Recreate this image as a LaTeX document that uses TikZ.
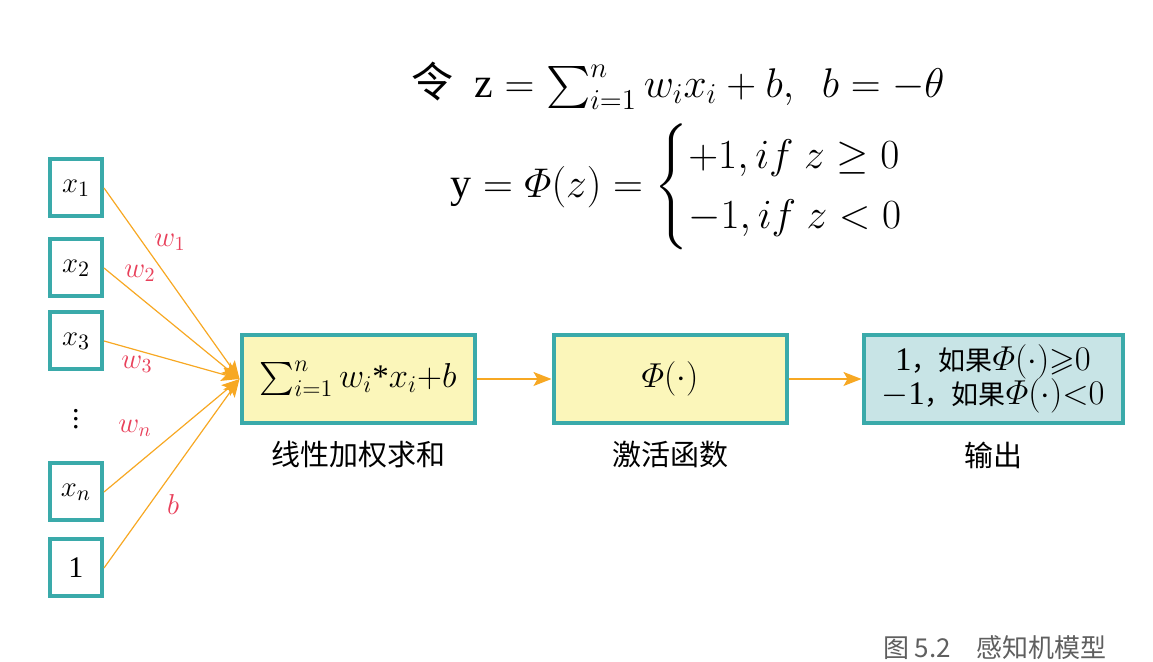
\documentclass[tikz,border=0pt]{standalone}
\usepackage{amsmath}
\usepackage{amssymb}
\usepackage{fontspec}
\setmainfont{Liberation Serif}
\newfontfamily\cjk{Noto Sans CJK SC}
\usepackage{tikz}
\usetikzlibrary{arrows.meta}
\usetikzlibrary{positioning}
\definecolor{boxteal}{RGB}{58,170,170}
\definecolor{sumyellow}{RGB}{251,246,186}
\definecolor{outblue}{RGB}{200,228,230}
\definecolor{arroworange}{RGB}{247,168,35}
\definecolor{weightred}{RGB}{232,64,90}
\definecolor{captiongray}{RGB}{95,95,95}

\begin{document}
\begin{tikzpicture}[x=0.5pt,y=-0.5pt,>={Stealth[length=9pt,width=7pt,inset=2pt]},
	inbox/.style={rectangle,draw=boxteal,line width=2pt,minimum width=26pt,minimum height=28.5pt,inner sep=0pt,font=\fontsize{15}{17}\selectfont},
	stagebox/.style={rectangle,draw=boxteal,line width=2pt,fill=sumyellow,minimum width=116.5pt,minimum height=44pt,inner sep=0pt,font=\fontsize{16.5}{18}\selectfont},
	stagelabel/.style={font=\cjk\fontsize{14.5}{16}\selectfont},
	weight/.style={text=weightred,font=\fontsize{14}{16}\selectfont},
	link/.style={draw=arroworange,line width=0.6pt,fill=arroworange}]
	\useasboundingbox (0,0) rectangle (1153,662);
	% formulas
	\node[inner sep=0pt] (zdef) at (678,86) {\fontsize{21}{25}\selectfont{\cjk 令}\ \ $\mathrm{z}=\textstyle\sum_{i=1}^{n}w_ix_i+b,\ \ b=-\theta$};
	\node[inner sep=0pt] (ydef) at (698,187) {\fontsize{21}{25}\selectfont$\mathrm{y}=\varPhi(z)=\begin{cases}+1,if\ z\geq0\\-1,if\ z<0\end{cases}$};
	% inputs
	\node[inbox] (x1) at (76,188) {$x_1$};
	\node[inbox] (x2) at (76,268) {$x_2$};
	\node[inbox] (x3) at (76,341) {$x_3$};
	\node[inner sep=0pt] (dots) at (76,413) {\fontsize{15}{17}\selectfont$\vdots$};
	\node[inbox] (xn) at (76,492) {$x_n$};
	\node[inbox] (one) at (76,568) {1};
	% stages
	\node[stagebox] (sum) at (358,379) {$\sum_{i=1}^{n}w_i\text{*}x_i{+}b$};
	\node[stagebox] (act) at (670,379) {$\varPhi(\cdot)$};
	\node[stagebox,fill=outblue,minimum width=129.5pt,align=center,font=\fontsize{16.5}{18}\selectfont] (out) at (993,379)
		{1{\cjk\fontsize{13.5}{18}\selectfont ，如果}$\varPhi(\cdot){\geqslant}0$\\[-1pt]$-$1{\cjk\fontsize{13.5}{18}\selectfont ，如果}$\varPhi(\cdot){<}0$};
	\node[stagelabel] (sumlabel) at (358,455) {线性加权求和};
	\node[stagelabel] (actlabel) at (670,455) {激活函数};
	\node[stagelabel] (outlabel) at (993,455) {输出};
	% weights
	\node[weight] (w1) at (170,242) {$w_1$};
	\node[weight] (w2) at (140,273) {$w_2$};
	\node[weight] (w3) at (137,364) {$w_3$};
	\node[weight] (wn) at (135,428) {$w_n$};
	\node[weight] (wb) at (173,505) {$b$};
	\node[text=captiongray,font=\cjk\fontsize{13}{15}\selectfont] (caption) at (995,648) {图 5.2\quad 感知机模型};
	\path[link]	(x1.east)	edge[->]	(sum.west)
		(x2.east)	edge[->]	(sum.west)
		(x3.east)	edge[->]	(sum.west)
		(xn.east)	edge[->]	(sum.west)
		(one.east)	edge[->]	(sum.west)
		(sum)	edge[->]	(act)
		(act)	edge[->]	(out);
\end{tikzpicture}
\end{document}
